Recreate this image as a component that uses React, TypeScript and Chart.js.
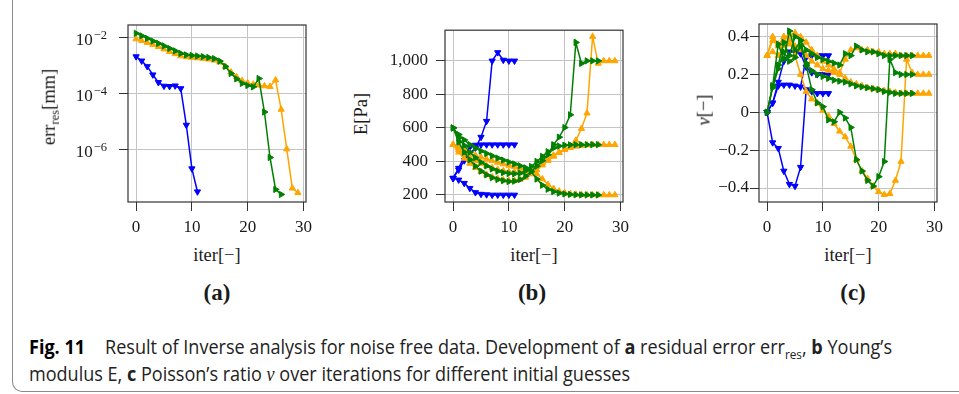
import React, { useEffect, useLayoutEffect, useRef } from 'react';
import { Chart, registerables } from 'chart.js';

Chart.register(...registerables);

// ---------- colours ----------
const BLUE = '#0000ff';
const ORANGE = '#ffa500';
const GREEN = '#008000';

// ---------- tick values ----------
const iterTicks = [0, 10, 20, 30];
const errTicks = [1e-6, 1e-4, 1e-2];
const eTicks = [200, 400, 600, 800, 1000];
const nuTicks = [-0.4, -0.2, 0, 0.2, 0.4];

// ---------- (a) residual error err_res [mm] ----------
const errBlue = [2.0e-3, 1.41e-3, 8.9e-4, 4.5e-4, 2.4e-4, 1.78e-4, 1.74e-4, 1.82e-4, 1.45e-4, 7.2e-6, 2.0e-7, 3.0e-8];
const errOrange = [
  8.5e-3, 7.4e-3, 6.3e-3, 5.4e-3, 4.5e-3, 3.7e-3, 3.0e-3, 2.5e-3, 2.1e-3, 1.95e-3,
  1.86e-3, 1.78e-3, 1.7e-3, 1.62e-3, 1.48e-3, 1.26e-3, 8.9e-4, 5.6e-4, 3.8e-4, 2.75e-4,
  2.3e-4, 2.04e-4, 1.9e-4, 1.78e-4, 1.7e-4, 2.9e-4, 2.6e-5, 1.0e-6, 4.0e-8, 2.75e-8,
];
const errGreen = [
  1.35e-2, 1.1e-2, 8.9e-3, 7.2e-3, 5.9e-3, 4.8e-3, 3.9e-3, 3.2e-3, 2.6e-3, 2.3e-3,
  2.2e-3, 2.1e-3, 2.0e-3, 1.86e-3, 1.7e-3, 1.38e-3, 8.9e-4, 5.0e-4, 3.2e-4, 2.2e-4,
  1.86e-4, 1.66e-4, 3.3e-4, 2.1e-5, 5.0e-7, 3.6e-8, 2.4e-8,
];

// ---------- (b) Young's modulus E [Pa] ----------
const eBlue1 = [300, 350, 405, 448, 480, 545, 640, 1000, 1050, 1005, 1000, 1000];
const eBlue2 = [300, 360, 430, 485, 498, 500, 500, 500, 500, 500, 500, 500];
const eBlue3 = [300, 290, 270, 240, 215, 205, 202, 200, 200, 200, 200, 200];

const eOrange1 = [500, 455, 418, 388, 362, 340, 322, 308, 298, 290, 286, 286, 292, 305, 325, 350, 378, 405, 430, 452, 472, 490, 525, 596, 688, 1145, 985, 1000, 1000, 1000];
const eOrange2 = [500, 470, 445, 423, 404, 388, 374, 362, 352, 344, 338, 335, 335, 340, 352, 370, 392, 415, 437, 455, 470, 482, 490, 495, 498, 500, 500, 500, 500, 500];
const eOrange3 = [500, 482, 465, 450, 437, 425, 414, 404, 394, 385, 376, 368, 360, 352, 343, 325, 295, 262, 238, 222, 213, 207, 204, 202, 201, 200, 200, 200, 200, 200];

const eGreen1 = [600, 515, 455, 410, 372, 342, 320, 303, 292, 285, 280, 282, 292, 312, 340, 372, 405, 440, 500, 545, 602, 678, 1110, 985, 1000, 1000, 1000];
const eGreen2 = [600, 540, 495, 455, 422, 395, 373, 355, 342, 333, 328, 326, 330, 345, 370, 400, 430, 458, 480, 492, 497, 499, 500, 500, 500, 500, 500];
const eGreen3 = [600, 560, 528, 500, 480, 462, 447, 433, 420, 408, 396, 385, 374, 362, 340, 295, 258, 234, 220, 211, 206, 203, 201, 200, 200, 200, 200];

// ---------- (c) Poisson's ratio nu [-] ----------
const nuBlue1 = [0, 0.05, 0.14, 0.145, 0.145, 0.14, 0.135, 0.29, 0.3, 0.3, 0.3, 0.3];
const nuBlue2 = [0, 0.05, 0.16, 0.27, 0.32, 0.32, 0.31, 0.24, 0.21, 0.2, 0.2, 0.2];
const nuBlue3 = [0, -0.16, -0.19, -0.31, -0.38, -0.39, -0.29, 0.12, 0.11, 0.1, 0.1, 0.1];

const nuOrange1 = [0.3, 0.4, 0.36, 0.38, 0.41, 0.42, 0.4, 0.37, 0.33, 0.3, 0.27, 0.25, 0.23, 0.21, 0.28, 0.33, 0.34, 0.33, 0.33, 0.32, 0.32, 0.31, 0.31, 0.31, 0.3, 0.3, 0.3, 0.3, 0.3, 0.3];
const nuOrange2 = [0.3, 0.38, 0.35, 0.4, 0.38, 0.3, 0.2, 0.11, 0.07, 0.05, 0.01, -0.02, -0.06, -0.1, -0.13, -0.18, -0.25, -0.31, -0.35, -0.39, -0.42, -0.435, -0.43, -0.36, -0.26, 0.28, 0.21, 0.2, 0.2, 0.2];
const nuOrange3 = [0.3, 0.32, 0.3, 0.35, 0.36, 0.35, 0.33, 0.3, 0.27, 0.25, 0.23, 0.22, 0.21, 0.2, 0.18, 0.16, 0.15, 0.14, 0.13, 0.125, 0.12, 0.115, 0.11, 0.105, 0.1, 0.1, 0.1, 0.1, 0.1, 0.1];

const nuGreen1 = [0, 0.14, 0.25, 0.37, 0.3, 0.4, 0.38, 0.33, 0.31, 0.29, 0.28, 0.27, 0.26, 0.25, 0.31, 0.3, 0.35, 0.33, 0.32, 0.32, 0.31, 0.3, 0.3, 0.3, 0.3, 0.3, 0.3];
const nuGreen2 = [0, 0.14, 0.36, 0.28, 0.43, 0.33, 0.38, 0.25, 0.12, 0.05, 0.03, -0.04, -0.05, 0.0, -0.03, -0.08, -0.25, -0.31, -0.36, -0.39, -0.34, -0.26, 0.28, 0.21, 0.2, 0.2, 0.2];
const nuGreen3 = [0, 0.13, 0.23, 0.32, 0.27, 0.29, 0.35, 0.26, 0.22, 0.2, 0.19, 0.18, 0.17, 0.165, 0.16, 0.15, 0.14, 0.135, 0.13, 0.125, 0.12, 0.11, 0.105, 0.1, 0.1, 0.1, 0.1];

// ---------- styling ----------
const GRID = '#c4c4c4';
const AXIS = '#333333';
const TXT = '#1a1a1a';
const SERIF = "'Liberation Serif', 'Times New Roman', serif";
const tickFont = { family: SERIF, size: 17 };
const PAD_T = 12;
const PAD_R = 14;
const X_H = 40;

function pts(vals: number[]) {
  return vals.map((v, i) => ({ x: i, y: v }));
}

function ds(vals: number[], color: string, rot: number) {
  return {
    data: pts(vals),
    borderColor: color,
    backgroundColor: color,
    pointBackgroundColor: color,
    pointBorderColor: color,
    borderWidth: 1.5,
    pointStyle: 'triangle',
    pointRotation: rot,
    pointRadius: 3.6,
    pointBorderWidth: 1,
    showLine: true,
    tension: 0,
  };
}

const framePlugin = {
  id: 'frameBox',
  afterDraw(chart: any) {
    const { left, top, right, bottom } = chart.chartArea;
    const ctx = chart.ctx;
    ctx.save();
    ctx.strokeStyle = AXIS;
    ctx.lineWidth = 1.2;
    ctx.strokeRect(left, top, right - left, bottom - top);
    ctx.restore();
  },
};

const logLabelPlugin = {
  id: 'logLabels',
  afterDraw(chart: any) {
    const s = chart.scales.y;
    const ctx = chart.ctx;
    ctx.save();
    ctx.fillStyle = TXT;
    ctx.textBaseline = 'alphabetic';
    ctx.textAlign = 'left';
    for (const t of s.ticks) {
      const y = s.getPixelForValue(t.value);
      const exp = Math.round(Math.log10(t.value));
      const sup = (exp < 0 ? '\u2212' : '') + Math.abs(exp);
      ctx.font = `12.5px ${SERIF}`;
      const sw = ctx.measureText(sup).width;
      const right = s.right - 21;
      ctx.fillText(sup, right - sw, y + 1.5);
      ctx.font = `17px ${SERIF}`;
      const bw = ctx.measureText('10').width;
      ctx.fillText('10', right - sw - bw - 1, y + 8);
    }
    ctx.restore();
  },
};

function xScale() {
  return {
    type: 'linear',
    min: -1.45,
    max: 30.45,
    afterBuildTicks: (s: any) => {
      s.ticks = iterTicks.map((v) => ({ value: v }));
    },
    afterFit: (s: any) => {
      s.height = X_H;
    },
    grid: { color: GRID, lineWidth: 1, drawTicks: true, tickLength: 9, tickColor: AXIS, tickWidth: 1 },
    border: { display: false },
    ticks: { font: tickFont, color: TXT, padding: 6, maxRotation: 0, autoSkip: false, callback: (v: any) => String(v) },
  };
}

function yGrid() {
  return { color: GRID, lineWidth: 1, drawTicks: true, tickLength: 9, tickColor: AXIS, tickWidth: 1 };
}

function baseOptions(yScale: any) {
  return {
    responsive: false,
    maintainAspectRatio: false,
    animation: false,
    devicePixelRatio: 1,
    events: [],
    layout: { padding: { left: 0, top: PAD_T, right: PAD_R, bottom: 0 } },
    plugins: { legend: { display: false }, tooltip: { enabled: false } },
    scales: { x: xScale(), y: yScale },
  };
}

function configA() {
  return {
    type: 'line',
    data: {
      datasets: [ds(errGreen, GREEN, 90), ds(errOrange, ORANGE, 0), ds(errBlue, BLUE, 180)],
    },
    options: baseOptions({
      type: 'logarithmic',
      min: Math.pow(10, -7.89),
      max: Math.pow(10, -1.571),
      afterBuildTicks: (s: any) => {
        s.ticks = errTicks.map((v) => ({ value: v }));
      },
      afterFit: (s: any) => {
        s.width = 70;
      },
      grid: yGrid(),
      border: { display: false },
      ticks: { display: false },
    }),
    plugins: [framePlugin, logLabelPlugin],
  };
}

function configB() {
  return {
    type: 'line',
    data: {
      datasets: [
        ds(eGreen1, GREEN, 90), ds(eGreen2, GREEN, 90), ds(eGreen3, GREEN, 90),
        ds(eOrange1, ORANGE, 0), ds(eOrange2, ORANGE, 0), ds(eOrange3, ORANGE, 0),
        ds(eBlue1, BLUE, 180), ds(eBlue2, BLUE, 180), ds(eBlue3, BLUE, 180),
      ],
    },
    options: baseOptions({
      type: 'linear',
      min: 158,
      max: 1183,
      afterBuildTicks: (s: any) => {
        s.ticks = eTicks.map((v) => ({ value: v }));
      },
      afterFit: (s: any) => {
        s.width = 70;
      },
      grid: yGrid(),
      border: { display: false },
      ticks: { font: tickFont, color: TXT, padding: 8, callback: (v: any) => Number(v).toLocaleString('en-US') },
    }),
    plugins: [framePlugin],
  };
}

function configC() {
  return {
    type: 'line',
    data: {
      datasets: [
        ds(nuGreen1, GREEN, 90), ds(nuGreen2, GREEN, 90), ds(nuGreen3, GREEN, 90),
        ds(nuOrange1, ORANGE, 0), ds(nuOrange2, ORANGE, 0), ds(nuOrange3, ORANGE, 0),
        ds(nuBlue1, BLUE, 180), ds(nuBlue2, BLUE, 180), ds(nuBlue3, BLUE, 180),
      ],
    },
    options: baseOptions({
      type: 'linear',
      min: -0.474,
      max: 0.467,
      afterBuildTicks: (s: any) => {
        s.ticks = nuTicks.map((v) => ({ value: v }));
      },
      afterFit: (s: any) => {
        s.width = 60;
      },
      grid: yGrid(),
      border: { display: false },
      ticks: {
        font: tickFont,
        color: TXT,
        padding: 1,
        callback: (v: any) => {
          const n = Number(v);
          if (Math.abs(n) < 1e-9) return '0';
          return (n < 0 ? '\u2212' : '') + Math.abs(n).toFixed(1);
        },
      },
    }),
    plugins: [framePlugin],
  };
}

function Panel(props: { left: number; top: number; width: number; height: number; make: () => any }) {
  const ref = useRef<HTMLCanvasElement>(null);
  useEffect(() => {
    const chart = new Chart(ref.current as HTMLCanvasElement, props.make());
    return () => chart.destroy();
  }, []);
  return (
    <canvas
      ref={ref}
      width={props.width}
      height={props.height}
      style={{ position: 'absolute', left: props.left, top: props.top, width: props.width, height: props.height }}
    />
  );
}

function Label(props: { cx: number; cy: number; rotate?: boolean; style?: any; children: any }) {
  return (
    <div
      style={{
        position: 'absolute',
        left: props.cx,
        top: props.cy,
        transform: `translate(-50%, -50%)${props.rotate ? ' rotate(-90deg)' : ''}`,
        whiteSpace: 'nowrap',
        lineHeight: 1,
        fontFamily: SERIF,
        fontSize: 18.5,
        color: TXT,
        ...(props.style || {}),
      }}
    >
      {props.children}
    </div>
  );
}

const subStyle = { fontSize: '0.68em', position: 'relative' as const, top: '0.3em' };
const capFont = "'Open Sans', 'Noto Sans', sans-serif";

export default function App() {
  const l1 = useRef<HTMLDivElement>(null);
  const l2 = useRef<HTMLDivElement>(null);

  useLayoutEffect(() => {
    const fit = (el: HTMLDivElement | null, target: number) => {
      if (!el) return;
      el.style.transform = 'none';
      const w = el.getBoundingClientRect().width;
      if (w > 0) el.style.transform = `scaleX(${target / w})`;
    };
    fit(l1.current, 863);
    fit(l2.current, 601);
  }, []);

  const capLine = {
    position: 'absolute' as const,
    left: 29,
    whiteSpace: 'nowrap' as const,
    transformOrigin: '0 0',
    fontFamily: capFont,
    fontSize: 20,
    lineHeight: '26.7px',
    color: '#222',
  };

  return (
    <div style={{ position: 'fixed', left: 0, top: 0, width: 959, height: 394, background: '#fff', overflow: 'hidden' }}>
      <div
        style={{
          position: 'absolute',
          left: 12,
          top: -30,
          width: 1000,
          height: 422,
          boxSizing: 'border-box',
          borderLeft: '1.5px solid #8a8a8a',
          borderBottom: '1.5px solid #8a8a8a',
          borderBottomLeftRadius: 10,
        }}
      />

      <Panel left={58} top={13} width={262} height={229} make={configA} />
      <Panel left={375} top={12} width={262} height={230} make={configB} />
      <Panel left={699} top={12} width={252} height={230} make={configC} />

      <Label cx={49} cy={107} rotate>
        err<span style={subStyle}>res</span>[mm]
      </Label>
      <Label cx={361} cy={114} rotate>
        E[Pa]
      </Label>
      <Label cx={704} cy={110} rotate>
        <i>ν</i>[−]
      </Label>

      <Label cx={217} cy={255}>iter[−]</Label>
      <Label cx={534} cy={255}>iter[−]</Label>
      <Label cx={848} cy={255}>iter[−]</Label>

      <Label cx={217} cy={292} style={{ fontWeight: 'bold', fontSize: 23 }}>(a)</Label>
      <Label cx={532} cy={292} style={{ fontWeight: 'bold', fontSize: 23 }}>(b)</Label>
      <Label cx={853} cy={292} style={{ fontWeight: 'bold', fontSize: 23 }}>(c)</Label>

      <div ref={l1} style={{ ...capLine, top: 334 }}>
        <b style={{ color: '#000' }}>Fig. 11</b>
        <span style={{ display: 'inline-block', width: 22 }} />
        Result of Inverse analysis for noise free data. Development of <b>a</b> residual error err
        <span style={{ fontSize: 13, position: 'relative', top: 5 }}>res</span>, <b>b</b> Young’s
      </div>
      <div ref={l2} style={{ ...capLine, top: 360.7 }}>
        modulus E, <b>c</b> Poisson’s ratio <i style={{ fontFamily: SERIF }}>ν</i> over iterations for different initial guesses
      </div>
    </div>
  );
}
